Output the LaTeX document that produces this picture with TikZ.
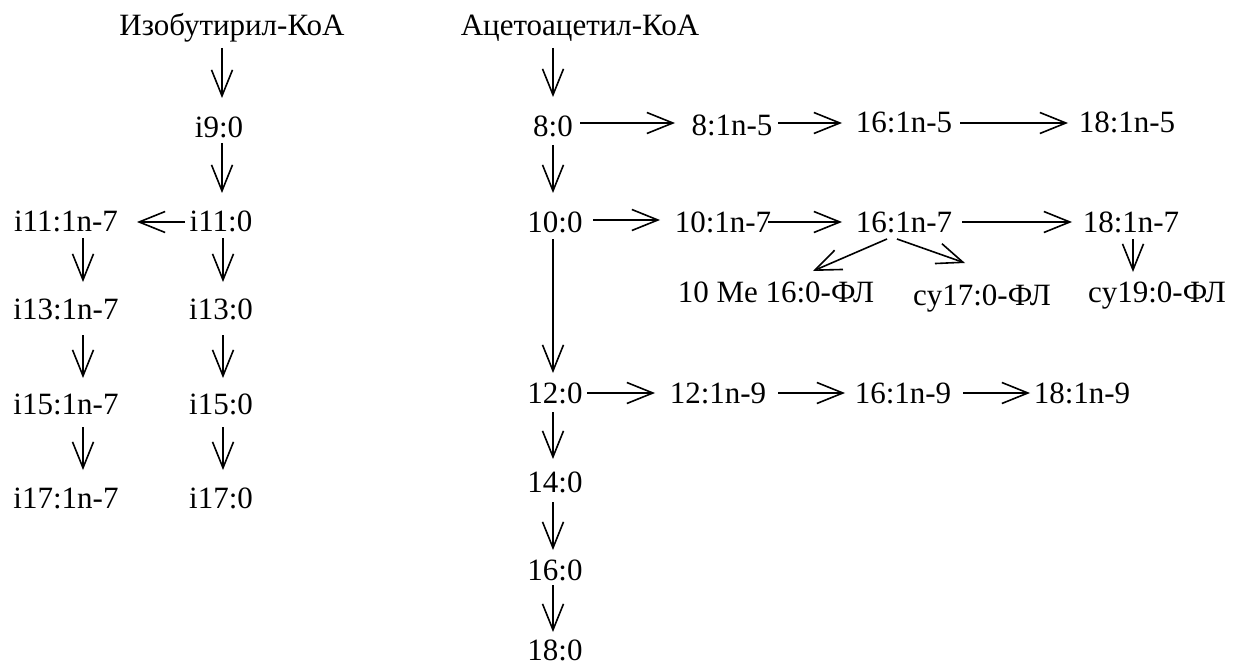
\documentclass[tikz,border=0pt]{standalone}
\usepackage{fontspec}
\setmainfont{Liberation Serif}
\usetikzlibrary{arrows.meta}
\begin{document}
\begin{tikzpicture}[x=1pt,y=-1pt,
  lbl/.style={anchor=base,inner sep=0pt,font=\fontsize{31}{36}\selectfont},
  arr/.style={line width=1.6pt,-{Straight Barb[length=26pt,width=21pt,line width=1.6pt]}}]
\useasboundingbox (0,0) rectangle (1235,666);
% left tree
\node[lbl] (iso) at (232,36) {Изобутирил-КоА};
\node[lbl] (i9) at (219,138) {i9:0};
\node[lbl] (i11n) at (66,231) {i11:1n-7};
\node[lbl] (i11) at (221,231) {i11:0};
\node[lbl] (i13n) at (66,319) {i13:1n-7};
\node[lbl] (i13) at (221,319) {i13:0};
\node[lbl] (i15n) at (66,414) {i15:1n-7};
\node[lbl] (i15) at (221,414) {i15:0};
\node[lbl] (i17n) at (66,508) {i17:1n-7};
\node[lbl] (i17) at (221,508) {i17:0};
% main tree
\node[lbl] (aca) at (580,36) {Ацетоацетил-КоА};
\node[lbl] (c8) at (553,137) {8:0};
\node[lbl] (c8n5) at (732,136) {8:1n-5};
\node[lbl] (c16n5) at (904,133) {16:1n-5};
\node[lbl] (c18n5) at (1127,133) {18:1n-5};
\node[lbl] (c10) at (555,232) {10:0};
\node[lbl] (c10n7) at (723,233) {10:1n-7};
\node[lbl] (c16n7) at (904,233) {16:1n-7};
\node[lbl] (c18n7) at (1131,233) {18:1n-7};
\node[lbl] (me) at (776,302) {10 Me 16:0-ФЛ};
\node[lbl] (cy17) at (982,305) {cy17:0-ФЛ};
\node[lbl] (cy19) at (1157,302) {cy19:0-ФЛ};
\node[lbl] (c12) at (555,403) {12:0};
\node[lbl] (c12n9) at (718,403) {12:1n-9};
\node[lbl] (c16n9) at (903,403) {16:1n-9};
\node[lbl] (c18n9) at (1082,403) {18:1n-9};
\node[lbl] (c14) at (555,492) {14:0};
\node[lbl] (c16) at (555,580) {16:0};
\node[lbl] (c18) at (555,660) {18:0};
% left arrows
\draw[arr] ([shift={(-10,12)}]iso.base) -- ([shift={(3,-40)}]i9.base);
\draw[arr] ([shift={(3,5)}]i9.base) -- ([shift={(1,-38)}]i11.base);
\draw[arr] ([shift={(-36,-9)}]i11.base) -- ([shift={(71,-9)}]i11n.base);
\draw[arr] ([shift={(17,7)}]i11n.base) -- ([shift={(17,-37)}]i13n.base);
\draw[arr] ([shift={(2,7)}]i11.base) -- ([shift={(2,-37)}]i13.base);
\draw[arr] ([shift={(17,16)}]i13n.base) -- ([shift={(17,-36)}]i15n.base);
\draw[arr] ([shift={(2,16)}]i13.base) -- ([shift={(2,-36)}]i15.base);
\draw[arr] ([shift={(17,13)}]i15n.base) -- ([shift={(17,-38)}]i17n.base);
\draw[arr] ([shift={(2,13)}]i15.base) -- ([shift={(2,-38)}]i17.base);
% main vertical
\draw[arr] ([shift={(-27,12)}]aca.base) -- ([shift={(0,-40)}]c8.base);
\draw[arr] ([shift={(0,8)}]c8.base) -- ([shift={(-2,-39)}]c10.base);
\draw[arr] ([shift={(-2,7)}]c10.base) -- ([shift={(-2,-30)}]c12.base);
\draw[arr] ([shift={(-2,9)}]c12.base) -- ([shift={(-2,-33)}]c14.base);
\draw[arr] ([shift={(-2,10)}]c14.base) -- ([shift={(-2,-30)}]c16.base);
\draw[arr] ([shift={(-2,5)}]c16.base) -- ([shift={(-2,-28)}]c18.base);
% horizontal rows
\draw[arr] ([shift={(27,-14)}]c8.base) -- ([shift={(-57,-13)}]c8n5.base);
\draw[arr] ([shift={(46,-13)}]c8n5.base) -- ([shift={(-62,-10)}]c16n5.base);
\draw[arr] ([shift={(56,-10)}]c16n5.base) -- ([shift={(-59,-10)}]c18n5.base);
\draw[arr] ([shift={(38,-12)}]c10.base) -- ([shift={(-63,-13)}]c10n7.base);
\draw[arr] ([shift={(45,-11)}]c10n7.base) -- ([shift={(-62,-11)}]c16n7.base);
\draw[arr] ([shift={(58,-11)}]c16n7.base) -- ([shift={(-59,-11)}]c18n7.base);
\draw[arr] ([shift={(2,6)}]c18n7.base) -- ([shift={(-24,-30)}]cy19.base);
\draw[arr] ([shift={(-17,6)}]c16n7.base) -- ([shift={(37,-31)}]me.base);
\draw[arr] ([shift={(-7,6)}]c16n7.base) -- ([shift={(-17,-42)}]cy17.base);
\draw[arr] ([shift={(32,-10)}]c12.base) -- ([shift={(-63,-10)}]c12n9.base);
\draw[arr] ([shift={(60,-10)}]c12n9.base) -- ([shift={(-58,-10)}]c16n9.base);
\draw[arr] ([shift={(60,-10)}]c16n9.base) -- ([shift={(-52,-10)}]c18n9.base);
\end{tikzpicture}
\end{document}
